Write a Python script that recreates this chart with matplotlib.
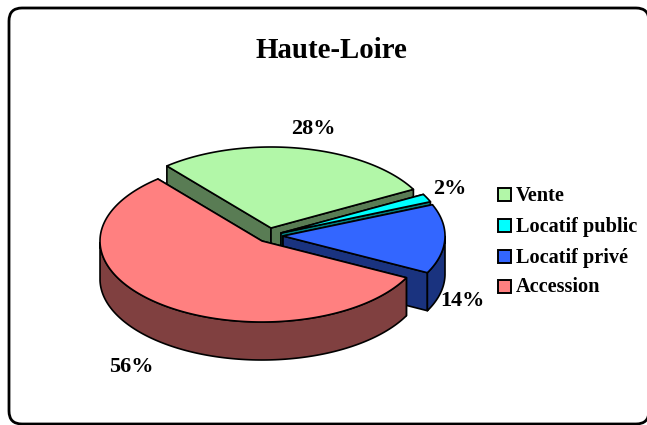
import matplotlib.pyplot as plt
import numpy as np
from matplotlib.patches import FancyBboxPatch, Polygon, Rectangle

plt.rcParams['font.family'] = ['Liberation Serif', 'DejaVu Serif']
plt.rcParams['font.weight'] = 'bold'

TITLE = 'Haute-Loire'
CATEGORIES = ['Vente', 'Locatif public', 'Locatif privé', 'Accession']
VALUES = [28.2, 1.6, 13.8, 56.4]
TOP_COLORS = ['#B2F7A8', '#00FFFF', '#3366FF', '#FF8080']
SIDE_COLORS = ['#597C54', '#008080', '#1A337F', '#804040']

# exploded slice centres, in picture pixels
CENTERS = [(271, 228), (281, 233), (283, 236), (262, 241)]
LABEL_POS = [(313, 128.5), (450, 188.5), (462, 301.5), (131, 367.5)]
LEGEND_Y = [194, 225, 256, 286]

RX, RY = 162, 81
DEPTH = 38
START_ANGLE = 130
LW = 1.2


def ring(center, t):
    """Points of the pie's top ellipse for angles t (radians)."""
    return np.column_stack([center[0] + RX * np.cos(t), center[1] - RY * np.sin(t)])


def draw_slice(ax, center, a0, a1, top, side):
    t = np.radians(np.linspace(a0, a1, 200))
    arc = ring(center, t)
    tip = np.array(center, dtype=float)
    down = np.array([0, DEPTH])

    # radial walls
    for end in (arc[0], arc[-1]):
        wall = np.array([tip, end, end + down, tip + down])
        ax.add_patch(Polygon(wall, closed=True, fc=side, ec='black', lw=LW, joinstyle='round'))

    # outer wall, only the part facing the viewer
    front = np.sin(t) <= 0
    if front.any():
        idx = np.where(front)[0]
        part = arc[idx]
        wall = np.vstack([part, (part + down)[::-1]])
        ax.add_patch(Polygon(wall, closed=True, fc=side, ec='black', lw=LW, joinstyle='round'))

    ax.add_patch(Polygon(np.vstack([tip, arc]), closed=True, fc=top, ec='black', lw=LW, joinstyle='round'))


def main():
    fig = plt.figure(figsize=(6.47, 4.25), dpi=100)
    ax = fig.add_axes([0, 0, 1, 1])
    ax.set_xlim(0, 647)
    ax.set_ylim(425, 0)
    ax.axis('off')

    # chart frame
    ax.add_patch(FancyBboxPatch((9, 8), 640, 416, boxstyle='round,pad=0,rounding_size=13',
                                fc='white', ec='black', lw=2.0))

    ax.text(331, 50.5, TITLE, ha='center', va='center', fontsize=20.8)

    # slices run clockwise, drawn back to front
    angle = START_ANGLE
    total = sum(VALUES)
    for i, v in enumerate(VALUES):
        sweep = v / total * 360
        draw_slice(ax, CENTERS[i], angle, angle - sweep, TOP_COLORS[i], SIDE_COLORS[i])
        angle -= sweep

    for v, (x, y) in zip(VALUES, LABEL_POS):
        ax.text(x, y, f'{v:.0f}%', ha='center', va='center', fontsize=16)

    for name, color, y in zip(CATEGORIES, TOP_COLORS, LEGEND_Y):
        ax.add_patch(Rectangle((497.5, y - 6.5), 13, 13, fc=color, ec='black', lw=1.4))
        ax.text(516, y + 1.5, name, ha='left', va='center', fontsize=14.6)

    fig.savefig('out.png', dpi=100, facecolor='white')
    plt.close(fig)


if __name__ == "__main__":
    main()
